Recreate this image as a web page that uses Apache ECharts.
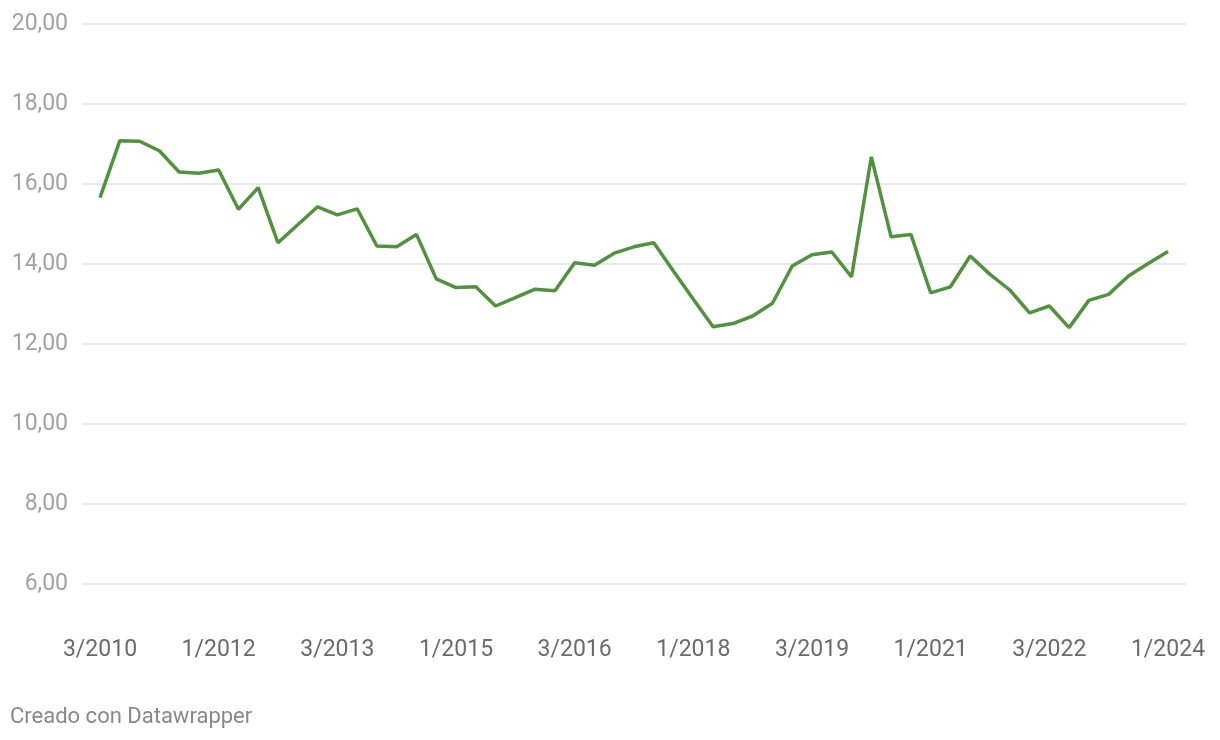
<!DOCTYPE html>
<html>
<head>
<meta charset="utf-8">
<script src="https://cdn.jsdelivr.net/npm/echarts@6/dist/echarts.min.js"></script>
<style>
html,body{margin:0;padding:0;background:#fff;}
#chart{width:1220px;height:740px;}
</style>
</head>
<body>
<div id="chart"></div>
<script>
// Quarter labels (quarter/year), Q3 2010 .. Q1 2024
const categories = [
  "3/2010","4/2010",
  "1/2011","2/2011","3/2011","4/2011",
  "1/2012","2/2012","3/2012","4/2012",
  "1/2013","2/2013","3/2013","4/2013",
  "1/2014","2/2014","3/2014","4/2014",
  "1/2015","2/2015","3/2015","4/2015",
  "1/2016","2/2016","3/2016","4/2016",
  "1/2017","2/2017","3/2017","4/2017",
  "1/2018","2/2018","3/2018","4/2018",
  "1/2019","2/2019","3/2019","4/2019",
  "1/2020","2/2020","3/2020","4/2020",
  "1/2021","2/2021","3/2021","4/2021",
  "1/2022","2/2022","3/2022","4/2022",
  "1/2023","2/2023","3/2023","4/2023",
  "1/2024"
];
const values = [
  15.66, 17.08, 17.07, 16.83, 16.30, 16.27, 16.35, 15.37, 15.91, 14.53,
  14.98, 15.43, 15.23, 15.38, 14.45, 14.43, 14.74, 13.63, 13.41, 13.43,
  12.95, 13.16, 13.37, 13.33, 14.03, 13.97, 14.27, 14.43, 14.53, 13.82,
  13.12, 12.43, 12.51, 12.70, 13.02, 13.95, 14.23, 14.30, 13.68, 16.68,
  14.68, 14.74, 13.28, 13.43, 14.20, 13.74, 13.35, 12.78, 12.95, 12.41,
  13.09, 13.24, 13.70, 14.01, 14.31
];
const xTickLabels = ["3/2010","1/2012","3/2013","1/2015","3/2016","1/2018","3/2019","1/2021","3/2022","1/2024"];
const yTicks = [6, 8, 10, 12, 14, 16, 18, 20];

const xTickIdx = xTickLabels.map(l => categories.indexOf(l));
const chart = echarts.init(document.getElementById('chart'), null, {renderer: 'canvas'});
chart.setOption({
  animation: false,
  backgroundColor: '#ffffff',
  textStyle: {fontFamily: 'Roboto'},
  grid: {left: 82, right: 34, top: 24, bottom: 156, containLabel: false},
  xAxis: {
    type: 'value',
    min: -0.91,
    max: categories.length - 1 + 0.91,
    axisLine: {show: false},
    axisTick: {show: false},
    splitLine: {show: false},
    axisLabel: {
      customValues: xTickIdx,
      formatter: v => categories[Math.round(v)],
      color: '#6b6b6b',
      fontSize: 23,
      fontFamily: 'Roboto',
      margin: 55
    }
  },
  yAxis: {
    type: 'value',
    min: yTicks[0],
    max: yTicks[yTicks.length - 1],
    interval: 2,
    axisLine: {show: false},
    axisTick: {show: false},
    splitLine: {lineStyle: {color: '#e2e2e2', width: 1.5}},
    axisLabel: {
      formatter: v => v.toFixed(2).replace('.', ','),
      color: '#a2a2a2',
      fontSize: 23,
      fontFamily: 'Roboto',
      margin: 14
    }
  },
  series: [{
    type: 'line',
    data: values.map((v, i) => [i, v]),
    symbol: 'none',
    lineStyle: {color: '#52923f', width: 3.5},
    itemStyle: {color: '#52923f'}
  }],
  graphic: [{
    type: 'text',
    left: 10,
    top: 706,
    style: {text: 'Creado con Datawrapper', fill: '#888888', fontSize: 22, fontFamily: 'Roboto'}
  }]
});
</script>
</body>
</html>
